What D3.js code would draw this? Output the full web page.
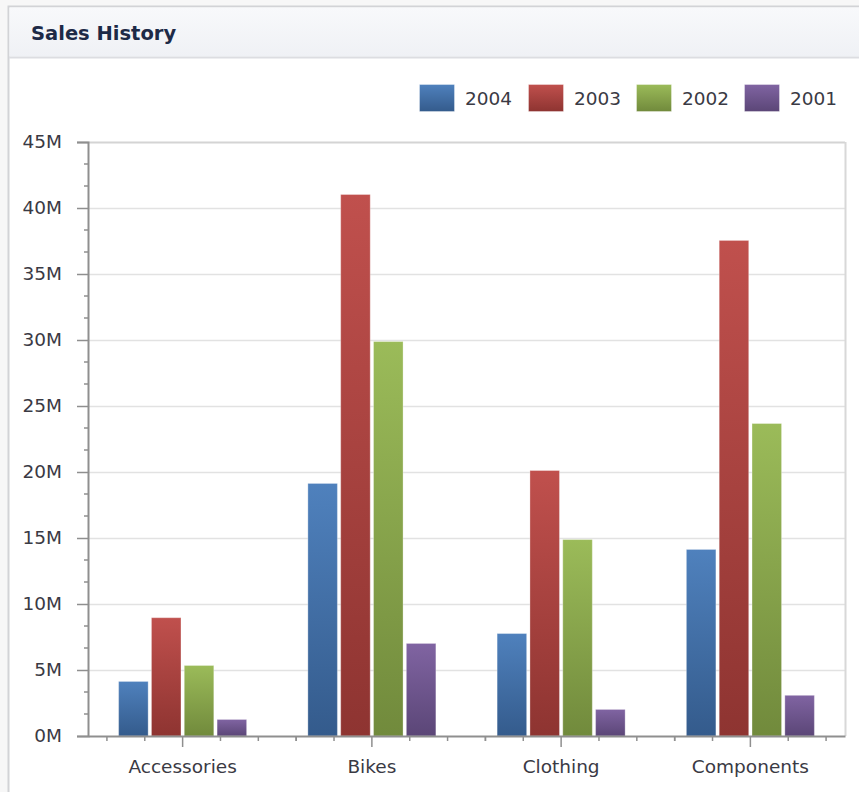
<!DOCTYPE html>
<html>
<head>
<meta charset="utf-8">
<script src="https://cdn.jsdelivr.net/npm/d3@7"></script>
<style>
  body { margin: 0; background: #f7f7f7; }
  svg { display: block; }
  text { font-family: "DejaVu Sans", sans-serif; }
</style>
</head>
<body>
<div id="chart"></div>
<script>
var categories = ['Accessories', 'Bikes', 'Clothing', 'Components']
var years = ['2004', '2003', '2002', '2001']

// sales in millions, one array per year, same order as categories
var sales2004 = [4.17, 19.17, 7.8, 14.17]
var sales2003 = [9.0, 41.06, 20.15, 37.58]
var sales2002 = [5.38, 29.92, 14.92, 23.71]
var sales2001 = [1.29, 7.05, 2.05, 3.12]

var yTicks = [0, 5, 10, 15, 20, 25, 30, 35, 40, 45]

var seriesByYear = {'2004': sales2004, '2003': sales2003, '2002': sales2002, '2001': sales2001}
var colors = {
  '2004': ['#4f81bd', '#345b8c'],
  '2003': ['#c0504d', '#8e3431'],
  '2002': ['#9bbb59', '#718a3c'],
  '2001': ['#8064a2', '#5b4677'],
}

var W = 859, H = 792
var svg = d3.select('#chart').append('svg').attr('width', W).attr('height', H)

var defs = svg.append('defs')
years.forEach(yr => {
  var g = defs.append('linearGradient').attr('id', 'g' + yr)
    .attr('x1', 0).attr('x2', 0).attr('y1', 0).attr('y2', 1)
  g.append('stop').attr('offset', 0).attr('stop-color', colors[yr][0])
  g.append('stop').attr('offset', 1).attr('stop-color', colors[yr][1])
})
var hg = defs.append('linearGradient').attr('id', 'hdr')
  .attr('x1', 0).attr('x2', 0).attr('y1', 0).attr('y2', 1)
hg.append('stop').attr('offset', 0).attr('stop-color', '#f8f9fb')
hg.append('stop').attr('offset', 1).attr('stop-color', '#eff1f5')

// panel
svg.append('rect').attr('x', 8.5).attr('y', 6.5).attr('width', W + 10).attr('height', H + 10)
  .attr('fill', '#fff').attr('stroke', '#d2d3d6').attr('stroke-width', 2)
svg.append('rect').attr('x', 9.5).attr('y', 7.5).attr('width', W).attr('height', 49)
  .attr('fill', 'url(#hdr)')
svg.append('line').attr('x1', 9).attr('x2', W).attr('y1', 57.5).attr('y2', 57.5)
  .attr('stroke', '#dcdde1').attr('stroke-width', 2)
svg.append('text').attr('x', 31).attr('y', 40).text('Sales History')
  .attr('font-size', 19.5).attr('font-weight', 'bold').attr('fill', '#1d2a47')

// plot
var plotL = 88, plotR = 845, plotT = 142, plotB = 736

var x0 = d3.scaleBand().domain(categories).range([plotL, plotR])
var groupW = 129
var x1 = d3.scaleBand().domain(years).range([0, groupW]).paddingInner(0.07)
var y = d3.scaleLinear().domain([0, 45]).range([plotB, plotT])

var grid = svg.append('g')
grid.selectAll('line').data(yTicks.slice(1)).join('line')
  .attr('x1', plotL).attr('x2', plotR)
  .attr('y1', d => Math.round(y(d)) + 0.5).attr('y2', d => Math.round(y(d)) + 0.5)
  .attr('stroke', d => d == 45 ? '#d4d4d4' : '#e2e2e2').attr('stroke-width', d => d == 45 ? 2 : 1.5)
grid.append('line').attr('x1', plotR + 0.5).attr('x2', plotR + 0.5).attr('y1', plotT).attr('y2', plotB)
  .attr('stroke', '#d8d8d8').attr('stroke-width', 2)

// bars
var rows = categories.map((c, i) => ({cat: c, vals: years.map(yr => ({year: yr, v: seriesByYear[yr][i]}))}))
svg.append('g').selectAll('g').data(rows).join('g')
  .attr('transform', d => `translate(${x0(d.cat) + (x0.bandwidth() - groupW) / 2},0)`)
  .selectAll('rect').data(d => d.vals).join('rect')
  .attr('x', d => x1(d.year) + 0.5)
  .attr('width', x1.bandwidth() - 1)
  .attr('y', d => y(d.v) + 0.5)
  .attr('height', d => plotB - y(d.v) - 0.5)
  .attr('fill', d => `url(#g${d.year})`)
  .attr('stroke', 'rgba(255,255,255,0.3)')

// y axis
var yAxis = svg.append('g').attr('transform', `translate(${plotL},0)`)
  .call(d3.axisLeft(y).tickValues(yTicks).tickSize(11).tickFormat(d => d + 'M'))
yAxis.select('.domain').attr('stroke', '#8f8f8f').attr('stroke-width', 2)
yAxis.selectAll('.tick line').attr('stroke', '#8f8f8f').attr('stroke-width', 1.5)
yAxis.selectAll('.tick text').attr('x', -26).attr('font-size', 18.5).attr('fill', '#3a3a44')
  .attr('font-family', '"DejaVu Sans", sans-serif')
var minorY = d3.range(0, 45, 5 / 3).filter((d, i) => i % 3 != 0)
yAxis.selectAll('.minor').data(minorY).join('line').attr('class', 'minor')
  .attr('x1', -4).attr('x2', 0).attr('y1', d => y(d)).attr('y2', d => y(d))
  .attr('stroke', '#8f8f8f').attr('stroke-width', 1.5)

// x axis
var xAxis = svg.append('g').attr('transform', `translate(0,${plotB})`)
  .call(d3.axisBottom(x0).tickSize(11).tickSizeOuter(0))
xAxis.select('.domain').attr('stroke', '#8f8f8f').attr('stroke-width', 2)
xAxis.selectAll('.tick line').attr('stroke', '#8f8f8f').attr('stroke-width', 1.5)
xAxis.selectAll('.tick text').attr('y', 24).attr('font-size', 18.5).attr('fill', '#3a3a44')
  .attr('font-family', '"DejaVu Sans", sans-serif')
var minorX = []
categories.forEach(c => {
  [-2, -1, 1, 2, 3].forEach(k => minorX.push(x0(c) + x0.bandwidth() / 2 + k * x0.bandwidth() / 5))
})
xAxis.selectAll('.minor').data(minorX.filter(d => d <= plotR)).join('line').attr('class', 'minor')
  .attr('x1', d => d).attr('x2', d => d).attr('y1', 0).attr('y2', 5)
  .attr('stroke', '#8f8f8f').attr('stroke-width', 1.5)

// legend
var legendX = [419, 528, 636, 744]
var legend = svg.append('g').selectAll('g').data(years).join('g')
  .attr('transform', (d, i) => `translate(${legendX[i]},84)`)
legend.append('rect').attr('x', 0.5).attr('y', 0.5).attr('width', 35).attr('height', 27)
  .attr('fill', d => `url(#g${d})`).attr('stroke', 'rgba(255,255,255,0.35)')
legend.append('text').attr('x', 46).attr('y', 21).text(d => d)
  .attr('font-size', 18.5).attr('fill', '#3a3a44')
</script>
</body>
</html>
